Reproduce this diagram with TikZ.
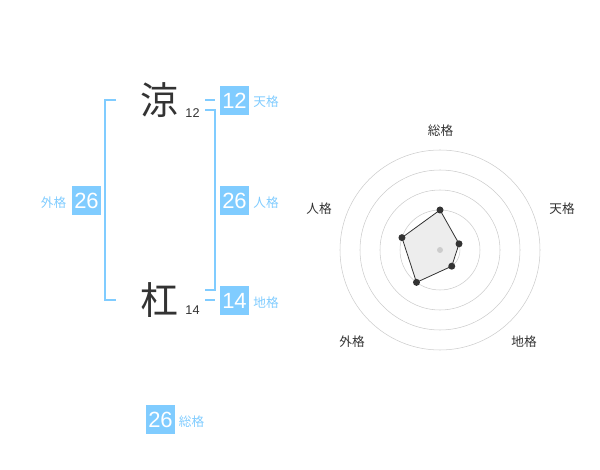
\documentclass[tikz,border=0pt]{standalone}
\usepackage{fontspec}
\setmainfont{Liberation Sans}
\newfontfamily\jpfont{Noto Sans CJK JP}
\usepackage{xcolor}
\usetikzlibrary{positioning}
\definecolor{kakublue}{HTML}{80CCFF}
\definecolor{kakudark}{HTML}{333333}

\begin{document}
\begin{tikzpicture}[
    x=0.75pt,y=-0.75pt,
    numbox/.style={fill=kakublue,text=white,minimum size=21.75pt,inner sep=0pt,font=\fontsize{16.5}{16.5}\selectfont},
    kaku/.style={text=kakublue,inner sep=0pt,font=\jpfont\fontsize{9.5}{9.5}\selectfont},
    kanji/.style={text=kakudark,inner sep=0pt,font=\jpfont\fontsize{28.5}{28.5}\selectfont},
    strokes/.style={text=kakudark,inner sep=0pt,font=\fontsize{9.5}{9.5}\selectfont},
    bracket/.style={draw=kakublue,line width=1.5pt},
    axislabel/.style={text=kakudark,inner sep=0pt,font=\jpfont\fontsize{9.5}{9.5}\selectfont},
    ring/.style={draw=black!20,line width=0.4pt},
    dot/.style={circle,fill=kakudark,inner sep=0pt,minimum size=5.25pt},
]
    \useasboundingbox (0,0) rectangle (600,470);

    \node[kanji] (ryo) at (159,100) {涼};
    \node[strokes] (ryon) at (192.5,113) {12};
    \node[kanji] (kou) at (159,300) {杠};
    \node[strokes] (koun) at (192.5,310.5) {14};

    \node[numbox] (gai) at (86.5,200.5) {26};
    \node[kaku] (gail) at (53.5,203) {外格};
    \node[numbox] (ten) at (234.5,100.5) {12};
    \node[kaku] (tenl) at (266,102) {天格};
    \node[numbox] (jin) at (234.5,200.5) {26};
    \node[kaku] (jinl) at (266,203) {人格};
    \node[numbox] (chi) at (234.5,300.5) {14};
    \node[kaku] (chil) at (266,303) {地格};
    \node[numbox] (sou) at (160.5,419.5) {26};
    \node[kaku] (soul) at (191.5,422) {総格};

    \coordinate (lt) at (116,100);
    \coordinate (lb) at (116,300);
    \coordinate (rt) at (205,110);
    \coordinate (rb) at (205,290);
    \coordinate (tena) at (205,100);
    \coordinate (tenb) at (215,100);
    \coordinate (chia) at (205,300);
    \coordinate (chib) at (215,300);

    \draw[bracket] (lt) -- (105,100) -- (105,300) -- (lb);
    \draw[bracket] (rt) -- (214.5,110) -- (214.5,290) -- (rb);
    \draw[bracket] (tena) -- (tenb);
    \draw[bracket] (chia) -- (chib);

    \begin{scope}[shift={(440,250)},x=0.75pt,y=0.75pt]
        \foreach \r in {20,40,...,100}
            \draw[ring] (0,0) circle[radius=\r];
        \coordinate (vsou) at (90:40);
        \coordinate (vten) at (18:20);
        \coordinate (vchi) at (-54:20);
        \coordinate (vgai) at (-126:40);
        \coordinate (vjin) at (162:40);
        \draw[fill=black!7,draw=kakudark,line width=0.6pt] (vsou) -- (vten) -- (vchi) -- (vgai) -- (vjin) -- cycle;
        \foreach \v in {vsou,vten,vchi,vgai,vjin}
            \node[dot] at (\v) {};
        \fill[black!20] (0,0) circle[radius=3];
    \end{scope}

    \node[axislabel] (asou) at (440.5,131) {総格};
    \node[axislabel] (aten) at (562,209) {天格};
    \node[axislabel] (achi) at (524,342) {地格};
    \node[axislabel] (agai) at (352,342) {外格};
    \node[axislabel] (ajin) at (319,209) {人格};
\end{tikzpicture}
\end{document}
